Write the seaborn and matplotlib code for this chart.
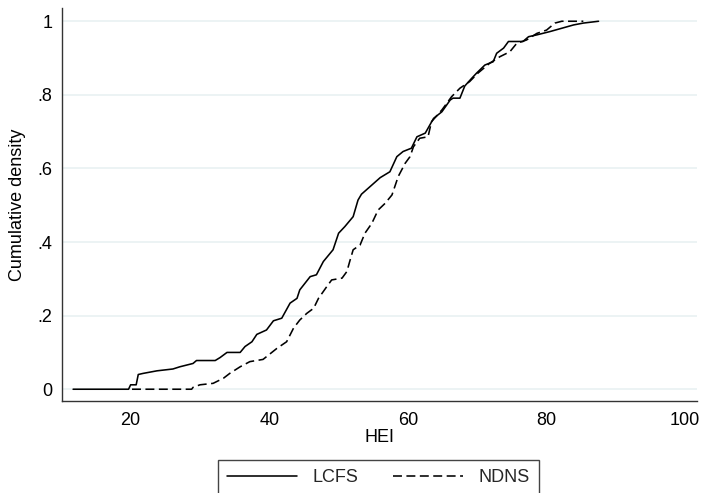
import numpy as np
import pandas as pd
import matplotlib
matplotlib.use("Agg")
import matplotlib.pyplot as plt
import seaborn as sns

# ---- data (vertices of the cumulative curves) ----
lcfs_hei = [11.7, 19.7, 20.0, 20.8, 21.1, 21.8, 23.8, 26.1, 27.1, 29.0, 29.5, 32.2,
            32.9, 33.9, 35.8, 36.5, 37.5, 38.2, 39.6, 40.6, 41.8, 43.0, 44.0, 44.4,
            45.9, 46.8, 47.8, 49.2, 50.0, 50.9, 52.1, 52.8, 53.3, 54.8, 56.0, 57.4,
            58.4, 59.3, 60.5, 61.3, 62.5, 63.7, 64.9, 66.1, 66.5, 67.5, 68.2, 69.2,
            69.9, 71.1, 72.3, 72.8, 73.8, 74.5, 76.6, 77.4, 78.6, 80.5, 82.2, 83.9,
            85.3, 87.5]
lcfs_cum = [0.0, 0.0, 0.012, 0.012, 0.04, 0.043, 0.05, 0.055, 0.061, 0.07, 0.078, 0.078,
            0.086, 0.10, 0.10, 0.116, 0.129, 0.149, 0.161, 0.186, 0.193, 0.234, 0.247, 0.27,
            0.306, 0.311, 0.347, 0.379, 0.424, 0.442, 0.469, 0.514, 0.53, 0.555, 0.575, 0.591,
            0.632, 0.646, 0.655, 0.686, 0.696, 0.736, 0.754, 0.786, 0.791, 0.791, 0.824, 0.845,
            0.859, 0.881, 0.89, 0.913, 0.927, 0.945, 0.945, 0.958, 0.963, 0.972, 0.981, 0.99,
            0.995, 1.0]

ndns_hei = [20.2, 28.8, 29.0, 30.0, 31.9, 33.4, 34.3, 35.8, 37.2, 39.1, 39.9, 41.1,
            42.5, 43.5, 44.4, 45.4, 46.4, 47.1, 48.3, 49.0, 50.5, 51.2, 51.6, 52.1,
            53.1, 53.8, 54.8, 55.7, 56.7, 57.7, 58.6, 59.6, 60.3, 60.8, 61.7, 62.9,
            63.4, 64.9, 66.3, 67.5, 68.9, 70.1, 71.8, 73.3, 74.7, 75.7, 77.1, 78.6,
            80.0, 81.2, 82.2, 85.3]
ndns_cum = [0.0, 0.0, 0.005, 0.012, 0.016, 0.03, 0.043, 0.061, 0.075, 0.081, 0.093, 0.111,
            0.129, 0.166, 0.188, 0.206, 0.22, 0.247, 0.279, 0.297, 0.302, 0.32, 0.347, 0.379,
            0.392, 0.424, 0.451, 0.487, 0.505, 0.528, 0.578, 0.614, 0.632, 0.659, 0.682, 0.686,
            0.727, 0.759, 0.795, 0.818, 0.836, 0.859, 0.886, 0.904, 0.917, 0.94, 0.949, 0.967,
            0.976, 0.995, 1.0, 1.0]

series_names = ["LCFS", "NDNS"]
x_ticks = [20, 40, 60, 80, 100]
y_ticks = [0, 0.2, 0.4, 0.6, 0.8, 1.0]
y_tick_labels = ["0", ".2", ".4", ".6", ".8", "1"]

df_l = pd.DataFrame({"HEI": lcfs_hei, "cum": lcfs_cum})
df_n = pd.DataFrame({"HEI": ndns_hei, "cum": ndns_cum})

# ---- style ----
sns.set_theme(style="white")
plt.rcParams["font.family"] = ["Liberation Sans", "DejaVu Sans"]

W, H = 701, 493
fig = plt.figure(figsize=(W / 100, H / 100), dpi=100)
ax = fig.add_axes([62 / W, 1 - 401 / H, (697 - 62) / W, (401 - 8) / H])

for yv in y_ticks:
    ax.axhline(yv, color="#eaf2f3", lw=1.3, zorder=0)

lw = 1.15
sns.lineplot(data=df_l, x="HEI", y="cum", ax=ax, color="black", lw=lw,
             estimator=None, sort=False, label=series_names[0])
sns.lineplot(data=df_n, x="HEI", y="cum", ax=ax, color="black", lw=lw,
             estimator=None, sort=False,
             linestyle=(0, (5.6, 2.8)), label=series_names[1])

ax.set_xlim(10.1, 101.7)
ax.set_ylim(-0.032, 1.036)
ax.set_xticks(x_ticks)
ax.set_xticklabels([str(t) for t in x_ticks])
ax.set_yticks(y_ticks)
ax.set_yticklabels(y_tick_labels)

for s in ["top", "right"]:
    ax.spines[s].set_visible(False)
for s in ["left", "bottom"]:
    ax.spines[s].set_color("#333333")
    ax.spines[s].set_linewidth(1.0)

ax.tick_params(axis="both", direction="out", length=5, width=1.0, color="#333333",
               labelsize=13, labelcolor="black")
ax.tick_params(axis="x", pad=3)
ax.tick_params(axis="y", pad=2)

ax.set_xlabel("HEI", fontsize=13, color="black")
ax.set_ylabel("Cumulative density", fontsize=13, color="black")
ax.xaxis.set_label_coords(0.5, -0.071)
ax.yaxis.set_label_coords(-0.057, 0.5)

handles, labels = ax.get_legend_handles_labels()
ax.get_legend().remove()
leg = fig.legend(handles, labels, loc="upper center",
                 bbox_to_anchor=(378.5 / W, 1 - 460 / H), ncol=2, frameon=True,
                 fancybox=False, edgecolor="#444444", framealpha=1, fontsize=13,
                 handlelength=3.9, handletextpad=0.85, columnspacing=1.9,
                 borderpad=0.5, borderaxespad=0)
leg.get_frame().set_linewidth(1.0)

fig.savefig("out.png", dpi=100)
